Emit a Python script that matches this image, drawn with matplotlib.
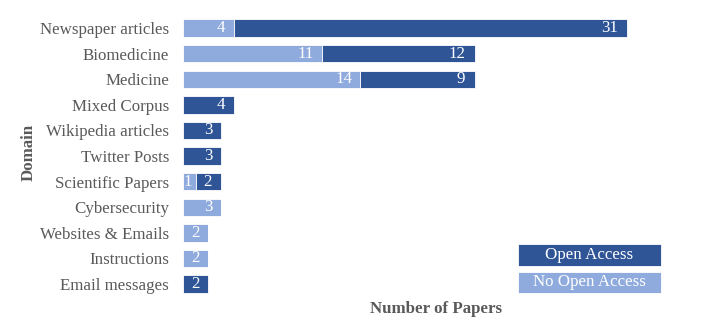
import numpy as np
import matplotlib.pyplot as plt
from matplotlib.patches import Rectangle

plt.rcParams['font.family'] = ['Liberation Serif', 'DejaVu Serif']

domains = ['Newspaper articles', 'Biomedicine', 'Medicine', 'Mixed Corpus',
           'Wikipedia articles', 'Twitter Posts', 'Scientific Papers',
           'Cybersecurity', 'Websites & Emails', 'Instructions', 'Email messages']
no_open_access = [4, 11, 14, 0, 0, 0, 1, 3, 2, 2, 0]
open_access = [31, 12, 9, 4, 3, 3, 2, 0, 0, 0, 2]

dark = '#2F5597'
light = '#8FAADC'
grey = '#595959'
fs = 12.2

fig = plt.figure(figsize=(7.05, 3.35), dpi=100)
ax = fig.add_axes([0.2596, 0.114, 0.7191, 0.8406])

y = np.arange(len(domains))
no_open = np.array(no_open_access)
opn = np.array(open_access)

ax.barh(y, no_open, height=0.68, color=light, edgecolor='white', linewidth=0.6)
ax.barh(y, opn, left=no_open, height=0.68, color=dark, edgecolor='white', linewidth=0.6)

# value labels, right aligned inside each segment
for i in range(len(domains)):
    if no_open[i] > 0:
        off = -6 if no_open[i] > 1 else -2.5
        ax.annotate(str(no_open[i]), (no_open[i], y[i]), xytext=(off, 0),
                    textcoords='offset points', ha='right', va='center',
                    color='white', fontsize=fs)
    if opn[i] > 0:
        ax.annotate(str(opn[i]), (no_open[i] + opn[i], y[i]), xytext=(-6.5, 0),
                    textcoords='offset points', ha='right', va='center',
                    color='white', fontsize=fs)

ax.set_xlim(0, 40)
ax.set_ylim(-0.5, len(domains) - 0.5)
ax.invert_yaxis()
ax.set_yticks(y)
ax.set_yticklabels(domains, fontsize=fs, color=grey)
ax.tick_params(axis='y', length=0, pad=10)
ax.set_xticks([])
for s in ax.spines.values():
    s.set_visible(False)

fig.text(0.04, 1 - 152 / 335, 'Domain', rotation=90, ha='center', va='center',
         fontsize=fs, fontweight='bold', color=grey)
fig.text(436 / 705, 1 - 309 / 335, 'Number of Papers', ha='center', va='center',
         fontsize=fs, fontweight='bold', color=grey)

# legend boxes with the text inside
for (bottom, h, col, txt) in [(0.206, 0.0657, dark, 'Open Access'),
                              (0.1254, 0.0627, light, 'No Open Access')]:
    fig.add_artist(Rectangle((0.7348, bottom), 0.2028, h, transform=fig.transFigure,
                             facecolor=col, edgecolor='white', linewidth=0.6))
    fig.text(0.7348 + 0.1014, bottom + h / 2, txt, ha='center', va='center',
             color='white', fontsize=fs)

fig.savefig('out.png', dpi=100)
